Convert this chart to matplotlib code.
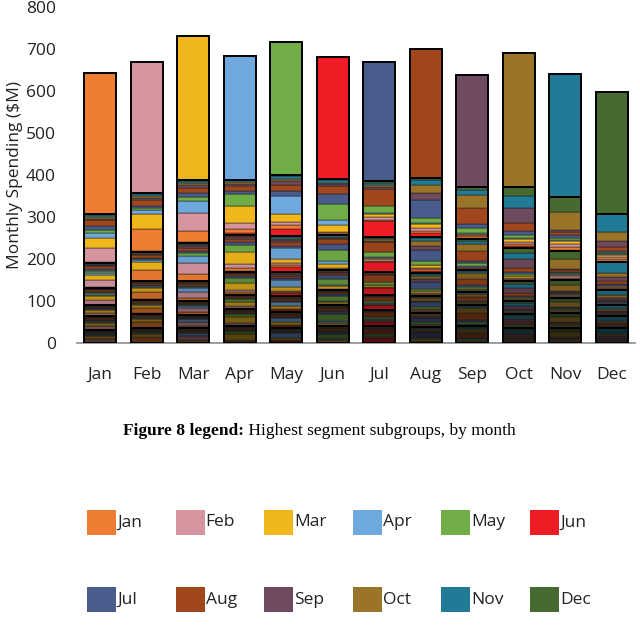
import matplotlib.pyplot as plt
from matplotlib.patches import Rectangle
from matplotlib.colors import to_rgb
import numpy as np

months = ['Jan', 'Feb', 'Mar', 'Apr', 'May', 'Jun',
          'Jul', 'Aug', 'Sep', 'Oct', 'Nov', 'Dec']
month_colors = ['#ED7D31', '#D6949F', '#F0B71C', '#6FA8DC', '#70AD47', '#EE1C25',
                '#4A5C8C', '#A0471E', '#6E4B5E', '#9A7428', '#217B96', '#466A30']

# order of the subgroups inside each block, bottom to top
stripe_order = ['Jun', 'Jan', 'Feb', 'Mar', 'Apr', 'May',
                'Jul', 'Aug', 'Sep', 'Oct', 'Nov', 'Dec']

# bar totals ($M)
totals = [642, 669, 731, 683, 716, 681, 668, 700, 637, 690, 640, 598]

# tops of the outlined lower blocks (cumulative, $M)
lower_edges = [
    [30, 64, 90, 131, 190],
    [35, 70, 103, 147, 217],
    [35, 67, 99, 147, 238],
    [40, 80, 115, 170, 258],
    [35, 73, 111, 170, 254],
    [40, 91, 127, 174, 258],
    [40, 79, 115, 170, 252],
    [38, 72, 111, 166, 252],
    [40, 91, 122, 174, 247],
    [35, 70, 99, 147, 226],
    [35, 72, 107, 150, 218],
    [35, 65, 91, 127, 193],
]

# block just under the top segment, values in stripe_order
upper_mix = [
    [4, 0, 32, 24, 12, 8, 8, 14, 4, 3, 5, 2],
    [2, 53, 0, 34, 10, 5, 6, 14, 5, 4, 4, 2],
    [2, 26, 44, 0, 27, 11, 8, 14, 6, 5, 5, 3],
    [3, 10, 14, 41, 0, 28, 8, 12, 5, 4, 4, 2],
    [18, 10, 6, 20, 43, 0, 10, 16, 8, 6, 7, 3],
    [0, 3, 3, 16, 12, 40, 23, 18, 5, 4, 6, 3],
    [38, 4, 5, 7, 4, 16, 0, 40, 6, 4, 6, 3],
    [10, 5, 6, 10, 3, 12, 43, 0, 16, 20, 12, 4],
    [3, 4, 3, 3, 2, 12, 10, 38, 0, 31, 12, 6],
    [4, 6, 5, 6, 3, 8, 8, 20, 36, 0, 29, 20],
    [4, 7, 6, 7, 4, 4, 6, 8, 6, 42, 0, 36],
    [3, 5, 4, 4, 2, 3, 4, 10, 16, 20, 44, 0],
]

# shading of the lower blocks, nearest the top first
shade = [0.95, 0.8, 0.65, 0.5, 0.36]

color_of = dict(zip(months, month_colors))
stripe_cols = [to_rgb(color_of[m]) for m in stripe_order]

fig = plt.figure(figsize=(6.4, 6.38), dpi=100)
ax = fig.add_axes([0.120, 0.4624, 0.872, 0.5266])

x = np.arange(len(months))
w = 0.69
edge_kw = dict(edgecolor='#1a1a1a', linewidth=0.35)
box_kw = dict(fill=False, edgecolor='black', linewidth=1.4, zorder=3)

for i in range(len(months)):
    mix = np.array(upper_mix[i], dtype=float)
    share = mix / mix.sum()
    prev = 0
    n = len(lower_edges[i])
    for k, top in enumerate(lower_edges[i]):
        h = top - prev
        f = shade[n - 1 - k]
        b = prev
        for j, v in enumerate(h * share):
            if v <= 0:
                continue
            c = tuple(ch * f for ch in stripe_cols[j])
            ax.bar(x[i], v, w, bottom=b, color=c, **edge_kw)
            b += v
        ax.bar(x[i], h, w, bottom=prev, **box_kw)
        prev = top
    b = prev
    for j, v in enumerate(mix):
        if v <= 0:
            continue
        ax.bar(x[i], v, w, bottom=b, color=stripe_cols[j], **edge_kw)
        b += v
    ax.bar(x[i], b - prev, w, bottom=prev, **box_kw)
    ax.bar(x[i], totals[i] - b, w, bottom=b, color=month_colors[i],
           edgecolor='black', linewidth=1.4, zorder=3)

ax.set_xlim(-0.5, 11.5)
ax.set_ylim(0, 800)
ax.set_yticks(range(0, 801, 100))
ax.set_xticks(x)
ax.set_xticklabels(months)
for s in ['top', 'right', 'left']:
    ax.spines[s].set_visible(False)
ax.spines['bottom'].set_color('#8c8c8c')
ax.spines['bottom'].set_linewidth(1.2)
ax.tick_params(length=0, labelsize=12.5, labelcolor='#222222')
ax.tick_params(axis='x', pad=17)
ax.tick_params(axis='y', pad=15)
for t in ax.get_xticklabels() + ax.get_yticklabels():
    t.set_family('Open Sans')
ax.set_ylabel('Monthly Spending ($M)', fontsize=12.5, family='Open Sans',
              color='#222222', labelpad=2)

# caption
cap = fig.text(123 / 640, 1 - 431 / 638, 'Figure 8 legend:', family='Liberation Serif',
               fontsize=12.5, fontweight='bold', va='center', ha='left')
fig.canvas.draw()
ax.annotate(' Highest segment subgroups, by month', xy=(1, 0.5), xycoords=cap,
            va='center', ha='left', family='Liberation Serif', fontsize=12.5,
            annotation_clip=False)

# legend, two rows of six
for i, (m, c) in enumerate(zip(months, month_colors)):
    row, col = divmod(i, 6)
    px = 87 + col * 88.6
    py = 510 + row * 77
    fig.add_artist(Rectangle((px / 640, 1 - (py + 25) / 638), 29 / 640, 25 / 638,
                             transform=fig.transFigure, facecolor=c, edgecolor='none'))
    fig.text((px + 30) / 640, 1 - (py + 12.5) / 638, m, family='Open Sans',
             fontsize=12.5, color='#222222', va='center', ha='left')

fig.savefig('out.png', dpi=100)
